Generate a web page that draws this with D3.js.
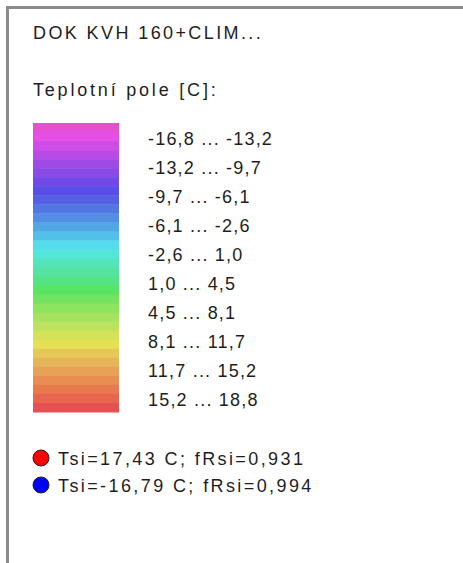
<!DOCTYPE html>
<html>
<head>
<meta charset="utf-8">
<script src="https://cdn.jsdelivr.net/npm/d3@7"></script>
<style>
  html, body { margin: 0; padding: 0; background: #fff; }
  svg { display: block; }
  text { font-family: "Liberation Sans", Arial, sans-serif; fill: #1e1e1e; font-size: 18px; letter-spacing: 2.4px; }
  text.field { letter-spacing: 2.8px; }
  text.cls { letter-spacing: 1.2px; }
</style>
</head>
<body>
<svg id="chart" width="463" height="563"></svg>
<script>
// Legend content for the temperature field
const title = "DOK KVH 160+CLIM...";
const fieldLabel = "Teplotní pole [C]:";

// Class boundaries of the temperature field [C]
const bounds = [-16.8, -13.2, -9.7, -6.1, -2.6, 1.0, 4.5, 8.1, 11.7, 15.2, 18.8];

// Colour stripes of the scale bar, top (coldest) to bottom (warmest)
const stripeColors = [
  "#e64fcf", "#e64ee6", "#d04ce6", "#b84be6", "#a04ae6", "#8a4ae6",
  "#704ae6", "#5a4ee8", "#5560e4", "#5276e2", "#528ee4", "#52a6e6",
  "#52c0e8", "#54dcec", "#54e6d8", "#54e4bc", "#54e4a0", "#54e484",
  "#58e464", "#74e460", "#8ce460", "#a4e260", "#bce260", "#d4e25a",
  "#e6e054", "#e6c858", "#e6b45a", "#e8a258", "#e88e52", "#e87a50",
  "#e86650", "#e65252"
];

// Surface temperature markers
const markerColors = ["#ff0000", "#0000ff"];
const markerTsi = [17.43, -16.79];
const markerFRsi = [0.931, 0.994];

const comma = s => s.replace(".", ",").replace("−", "-");
const fmt1 = v => comma(d3.format(".1f")(v));
const fmt2 = v => comma(d3.format(".2f")(v));
const fmt3 = v => comma(d3.format(".3f")(v));

const svg = d3.select("#chart");

// Panel frame (top and left edges)
svg.append("path")
  .attr("d", "M7.5,563 V7.5 H463")
  .attr("fill", "none")
  .attr("stroke", "#8c8c8c")
  .attr("stroke-width", 3);

svg.append("text").attr("x", 33).attr("y", 39).text(title);
svg.append("text").attr("class", "field").attr("x", 33).attr("y", 96).text(fieldLabel);

// Scale bar
const barX = 33, barW = 86, barTop = 123, barBottom = 412;
const yStripe = d3.scaleBand()
  .domain(d3.range(stripeColors.length))
  .range([barTop, barBottom]).padding(0);
svg.append("g").selectAll("rect")
  .data(stripeColors)
  .join("rect")
  .attr("x", barX)
  .attr("y", (d, i) => yStripe(i))
  .attr("width", barW)
  .attr("height", yStripe.bandwidth() + 0.5)
  .attr("fill", d => d);

// Class labels
const classes = d3.range(bounds.length - 1).map(i => [bounds[i], bounds[i + 1]]);
const yClass = d3.scaleBand()
  .domain(d3.range(classes.length))
  .range([barTop, barBottom]);
svg.append("g").selectAll("text")
  .data(classes)
  .join("text")
  .attr("class", "cls")
  .attr("x", 148)
  .attr("y", (d, i) => yClass(i) + yClass.bandwidth() / 2 + 2)
  .attr("dominant-baseline", "central")
  .text(d => `${fmt1(d[0])} ... ${fmt1(d[1])}`);

// Marker legend
const markers = markerTsi.map((t, i) => ({ t, f: markerFRsi[i], c: markerColors[i] }));
const yMark = d3.scalePoint().domain(d3.range(markers.length)).range([458, 485]);
const mg = svg.append("g").selectAll("g")
  .data(markers)
  .join("g")
  .attr("transform", (d, i) => `translate(0,${yMark(i)})`);
mg.append("circle")
  .attr("cx", 41).attr("cy", 0).attr("r", 8)
  .attr("fill", d => d.c)
  .attr("stroke", "#222").attr("stroke-width", 1);
mg.append("text")
  .attr("x", 58).attr("y", 1)
  .attr("dominant-baseline", "central")
  .text(d => `Tsi=${fmt2(d.t)} C; fRsi=${fmt3(d.f)}`);
</script>
</body>
</html>
